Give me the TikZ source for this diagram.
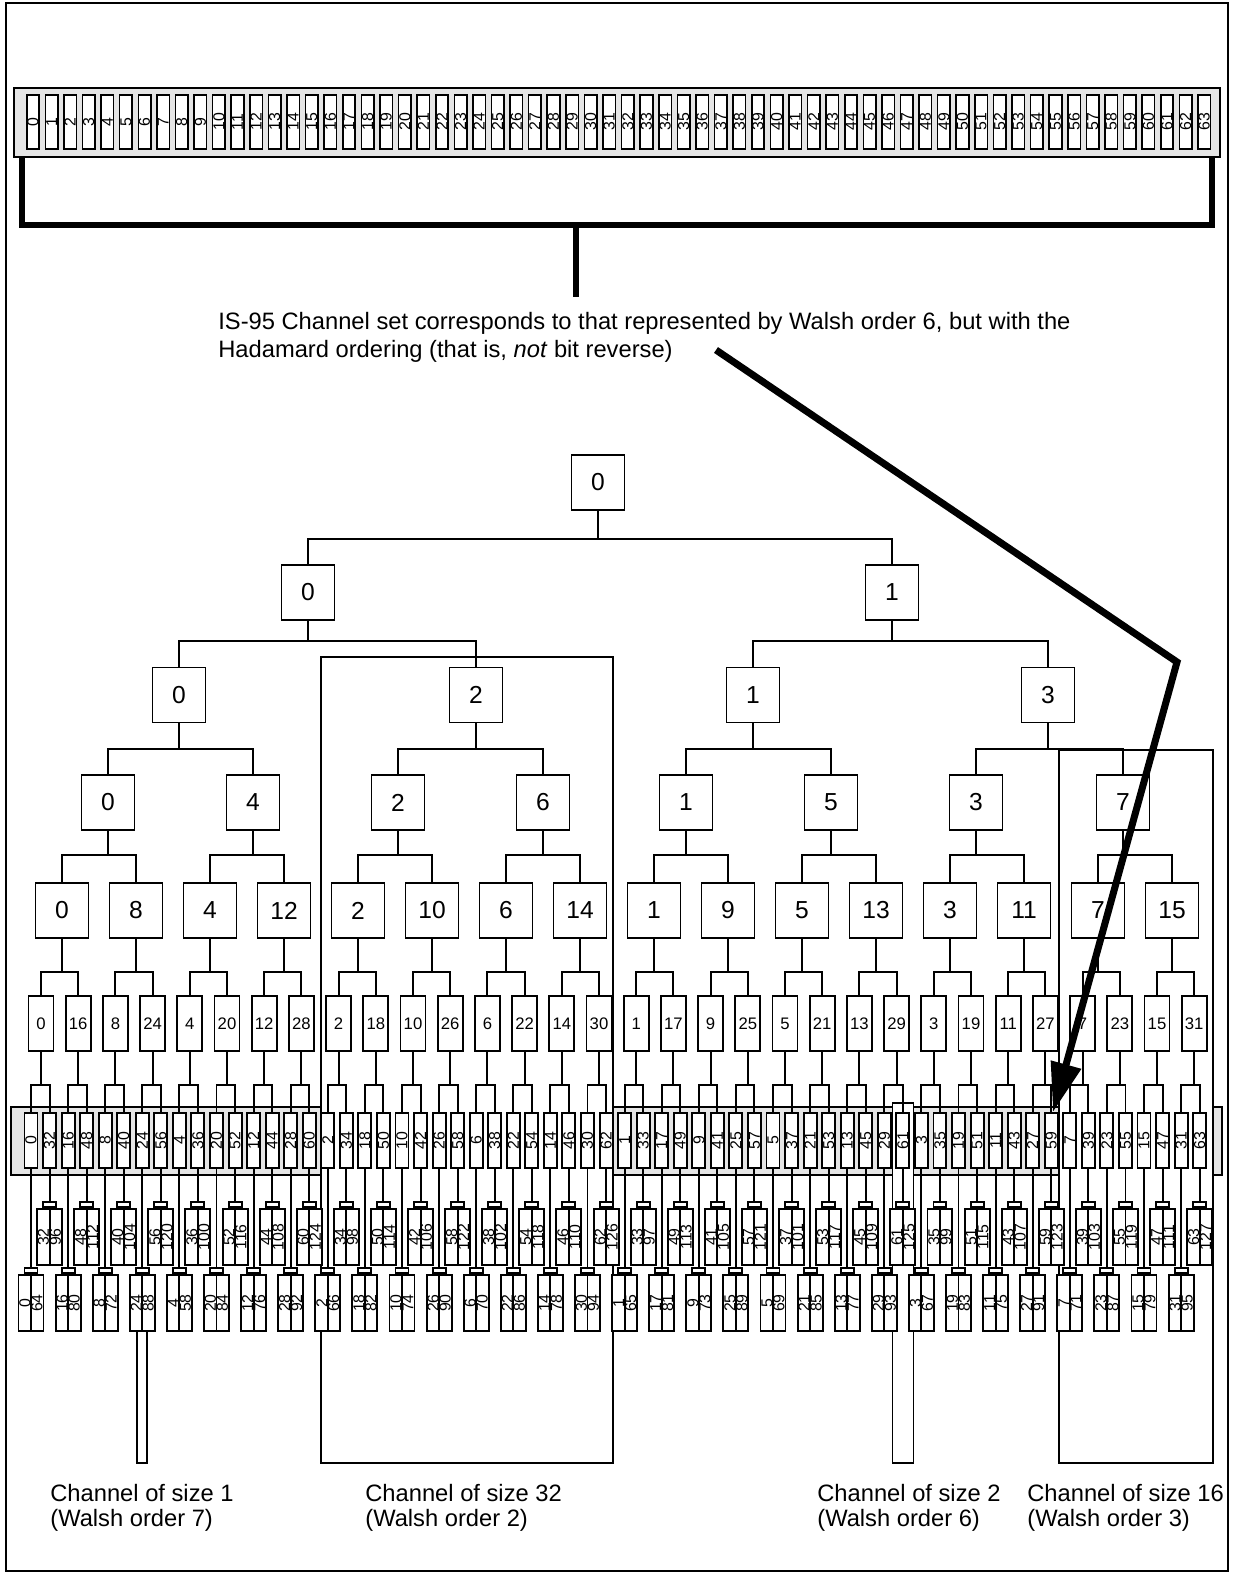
\documentclass[tikz,border=0pt]{standalone}
\usepackage{fontspec}
\setmainfont{Liberation Sans}
\usetikzlibrary{arrows.meta,calc}
\definecolor{bandgray}{gray}{0.9}
\tikzset{
  bigbox/.style={draw,fill=white,line width=1.1pt,minimum width=1.06cm,minimum height=1.1cm,inner sep=0pt,font=\fontsize{14}{14}\selectfont},
  midbox/.style={bigbox,minimum width=0.5cm,font=\fontsize{9.5}{9.5}\selectfont},
  slimbox/.style={bigbox,minimum width=0.26cm,font=\fontsize{9}{9}\selectfont},
  topbox/.style={slimbox,minimum width=0.25cm,minimum height=1.08cm,line width=0.9pt},
  pairbox/.style={bigbox,minimum width=0.5cm,minimum height=1.12cm},
  tabbox/.style={bigbox,minimum width=0.26cm,minimum height=0.1cm},
  vnum/.style={rotate=90,inner sep=0pt,font=\fontsize{9}{9}\selectfont},
  link/.style={line width=1.1pt},
  channel/.style={draw,fill=white,line width=0.9pt},
  note/.style={anchor=base west,inner sep=0pt,font=\fontsize{13.5}{16}\selectfont},
  caption/.style={anchor=north west,align=left,inner sep=0pt,font=\fontsize{13.5}{14.2}\selectfont}
}
\begin{document}
\begin{tikzpicture}[x=0.02cm,y=-0.02cm]
  \useasboundingbox (0,0) rectangle (1233,1574);
  \draw[line width=1.4pt] (6,3) rectangle (1228,1571);
  % IS-95 channel set
  \draw[fill=bandgray,line width=0.8pt] (14,88) rectangle (1220,157);
  \foreach \i in {0,...,63} \node[topbox] (w-\i) at ({33+18.59*\i},122) {\rotatebox{90}{\i}};
  \draw[line width=3.4pt] (22,157) -- (22,225) -- (1212,225) -- (1212,157) (576,225) -- (576,297);
  \node[note] (note1) at (218,330) {IS-95 Channel set corresponds to that represented by Walsh order 6, but with the};
  \node[note] (note2) at (218,358) {Hadamard ordering (that is, \textit{not} bit reverse)};
  \coordinate (arrowstart) at (716,350); \coordinate (arrowbend) at (1177,662); \coordinate (arrowtip) at (1053,1112);
  % band and channels
  \draw[fill=bandgray,line width=0.8pt] (11,1107) rectangle (1222,1175);
  \draw[channel] (321,657) rectangle (613,1463);
  \draw[channel] (1059,750) rectangle (1213,1463);
  \draw[channel] (892.5,1103) rectangle (913.5,1463);
  \draw[channel] (137,1331) rectangle (147,1463);
  % tree
  \node[bigbox] (l0-0) at (598,482.5) {0};
  \foreach \v/\x [count=\k from 0] in {0/308,1/892}{
    \node[bigbox] (l1-\k) at (\x,592.5) {\v};
    \draw[link] (l0-0.south) -- ++(0,28) -| (l1-\k.north);}
  \foreach \v/\x [count=\k from 0] in {0/179,2/476,1/753,3/1048}{
    \pgfmathtruncatemacro\p{\k/2}
    \node[bigbox] (l2-\k) at (\x,695) {\v};
    \draw[link] (l1-\p.south) -- ++(0,20) -| (l2-\k.north);}
  \foreach \v/\x [count=\k from 0] in {0/108,4/253,2/398,6/543,1/686,5/831,3/976,7/1123}{
    \pgfmathtruncatemacro\p{\k/2}
    \node[bigbox] (l3-\k) at (\x,802.5) {\v};
    \draw[link] (l2-\p.south) -- ++(0,25.5) -| (l3-\k.north);}
  \foreach \v [count=\k from 0] in {0,8,4,12,2,10,6,14,1,9,5,13,3,11,7,15}{
    \pgfmathtruncatemacro\p{\k/2}
    \node[bigbox] (l4-\k) at ({62+74*\k},910.5) {\v};
    \draw[link] (l3-\p.south) -- ++(0,24) -| (l4-\k.north);}
  \foreach \v [count=\j from 0] in {0,16,8,24,4,20,12,28,2,18,10,26,6,22,14,30,1,17,9,25,5,21,13,29,3,19,11,27,7,23,15,31}{
    \pgfmathtruncatemacro\p{\j/2}
    \pgfmathtruncatemacro\ia{2*\j}
    \pgfmathtruncatemacro\ib{2*\j+1}
    \pgfmathtruncatemacro\vb{\v+32}
    \pgfmathtruncatemacro\vc{\v+96}
    \pgfmathtruncatemacro\vd{ifthenelse(\v==4,58,\v+64)}
    \node[midbox] (l5-\j) at ({41+37.2*\j},1023.5) {\v};
    \draw[link] (l4-\p.south) -- ++(0,33) -| (l5-\j.north);
    \node[slimbox] (l6-\ia) at ({31+18.55*\ia},1140.5) {\rotatebox{90}{\v}};
    \node[slimbox] (l6-\ib) at ({31+18.55*\ib},1140.5) {\rotatebox{90}{\vb}};
    \draw[link] (l5-\j.south) -- ++(0,33) -| (l6-\ia.north);
    \draw[link] (l5-\j.south) -- ++(0,33) -| (l6-\ib.north);
    \node[pairbox] (l7-\j) at ({31+18.55*\ib},1237) {};
    \node[tabbox,anchor=south] (t7-\j) at (l7-\j.north) {};
    \draw[link] (l6-\ib.south) -- (t7-\j.north) (l7-\j.north) -- (l7-\j.south);
    \node[vnum] at ($(l7-\j.center)+(-6,0)$) {\vb};
    \node[vnum] at ($(l7-\j.center)+(6,0)$) {\vc};
    \node[pairbox] (l8-\j) at ({31+18.55*\ia},1303) {};
    \node[tabbox,anchor=south] (t8-\j) at (l8-\j.north) {};
    \draw[link] (l6-\ia.south) -- (t8-\j.north) (l8-\j.north) -- (l8-\j.south);
    \node[vnum] at ($(l8-\j.center)+(-6,0)$) {\v};
    \node[vnum] at ($(l8-\j.center)+(6,0)$) {\vd};
  }
  \draw[line width=4pt,-{Triangle[length=28pt,width=17pt]}] (arrowstart) -- (arrowbend) -- (arrowtip);
  \node[caption] (cap1) at (50,1484) {Channel of size 1\\(Walsh order 7)};
  \node[caption] (cap32) at (365,1484) {Channel of size 32\\(Walsh order 2)};
  \node[caption] (cap2) at (817,1484) {Channel of size 2\\(Walsh order 6)};
  \node[caption] (cap16) at (1027,1484) {Channel of size 16\\(Walsh order 3)};
\end{tikzpicture}
\end{document}
